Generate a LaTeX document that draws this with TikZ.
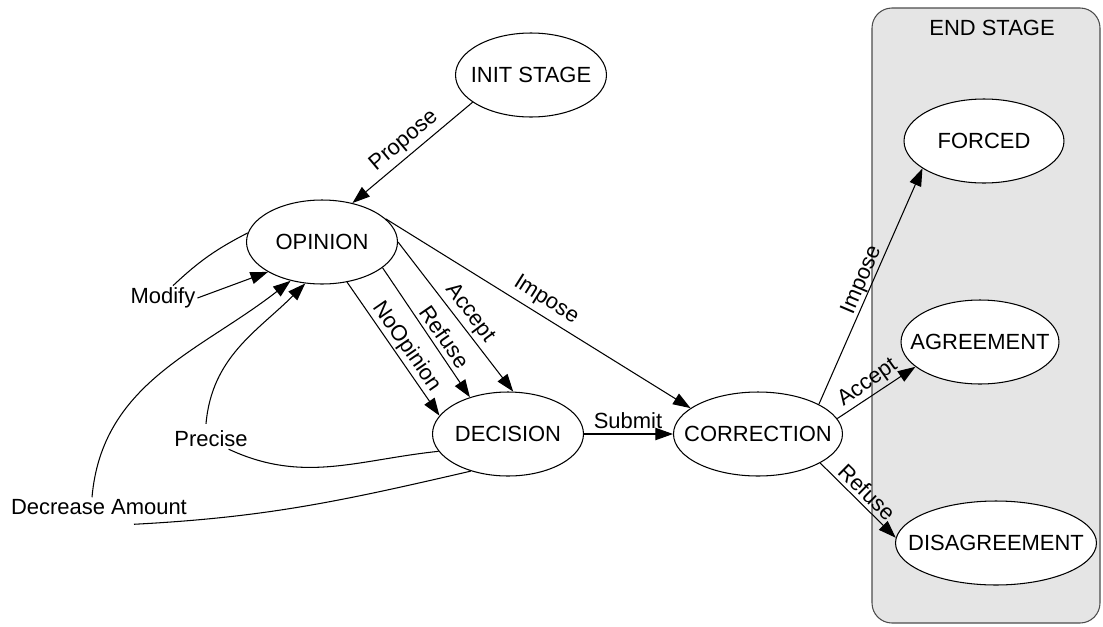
\documentclass[tikz,border=0pt]{standalone}
\usepackage{fontspec}
\setmainfont{Liberation Sans}
\usetikzlibrary{shapes.geometric, arrows.meta}
\tikzstyle{state} = [ellipse, draw, fill=white, line width=0.6pt, minimum height=1.68cm, inner sep=0pt, font=\fontsize{12.5}{15}\selectfont]
\tikzstyle{lbl} = [inner sep=1pt, font=\fontsize{12.5}{15}\selectfont]
\tikzstyle{line} = [line width=0.6pt]
\tikzstyle{arrow} = [line width=0.6pt, -{Triangle[length=10pt, width=7pt]}]
\tikzstyle{cluster} = [draw=black!70, fill=black!10, rounded corners=0.4cm, line width=0.6pt]

\begin{document}
\begin{tikzpicture}[x=0.02cm, y=-0.02cm] % one unit is one pixel of the sketch, y runs down

    \useasboundingbox (0,0) rectangle (1103,626);
    \draw[cluster] (872,8) rectangle (1100,623);
    \node (endlbl) [lbl] at (992,28) {END STAGE};

    \node (init) [state, minimum width=3.02cm] at (531,75) {\makebox[0pt]{INIT STAGE}};
    \node (opinion) [state, minimum width=3.02cm] at (322,242) {\makebox[0pt]{OPINION}};
    \node (decision) [state, minimum width=3.02cm] at (508,434) {\makebox[0pt]{DECISION}};
    \node (correction) [state, minimum width=3.38cm] at (758,434) {\makebox[0pt]{CORRECTION}};
    \node (forced) [state, minimum width=3.2cm] at (984,141) {\makebox[0pt]{FORCED}};
    \node (agreement) [state, minimum width=3.16cm] at (980,342) {\makebox[0pt]{AGREEMENT}};
    \node (disagreement) [state, minimum width=4.02cm] at (996,543) {\makebox[0pt]{DISAGREEMENT}};

    \node (modify) [lbl] at (163,298) {Modify};
    \node (precise) [lbl] at (211,439) {Precise};
    \node (declbl) [lbl] at (99,507) {Decrease Amount};

    \node (lpropose) [lbl, rotate=40] at (404,141) {Propose};
    \node (limpose) [lbl, rotate=-32.4] at (546,300) {Impose};
    \node (laccept) [lbl, rotate=-53] at (470,313) {Accept};
    \node (lrefuse) [lbl, rotate=-55.5] at (445,337) {Refuse};
    \node (lnoop) [lbl, rotate=-55.5] at (407,347) {NoOpinion};
    \node (lsubmit) [lbl] at (628,421) {Submit};
    \node (limpose2) [lbl, rotate=67] at (862,280) {Impose};
    \node (laccept2) [lbl, rotate=35.5] at (868,383) {Accept};
    \node (lrefuse2) [lbl, rotate=-44.6] at (867,492) {Refuse};

    \draw[arrow] (init.205) -- (opinion.52);
    \draw[arrow] (opinion.20) -- (correction.159);
    \draw[arrow] (opinion.0) -- (decision.83);
    \draw[arrow] (opinion.-23) -- (decision.136);
    \draw[arrow] (opinion.-58) -- (decision.165);
    \draw[arrow] (decision) -- (correction);
    \draw[arrow] (correction.26) -- (forced.204);
    \draw[arrow] (correction.11) -- (agreement.201);
    \draw[arrow] (correction.-25) -- (disagreement.177);

    % loops back to OPINION
    \draw[line] (opinion.173) to[bend right=8] ([xshift=0.2cm]modify.north);
    \draw[arrow] (modify.east) -- (opinion.209);
    \draw[line] (decision.194) to[out=186, in=-25] (precise.-30);
    \draw[arrow] ([xshift=-0.1cm, yshift=0.1cm]precise.north) to[out=85, in=225] (opinion.248);
    \draw[line] (decision.225) to[out=193, in=3] ([xshift=0.7cm, yshift=-0.15cm]declbl.south);
    \draw[arrow] ([xshift=-0.14cm]declbl.north) to[out=85, in=218] (opinion.231);

\end{tikzpicture}
\end{document}
